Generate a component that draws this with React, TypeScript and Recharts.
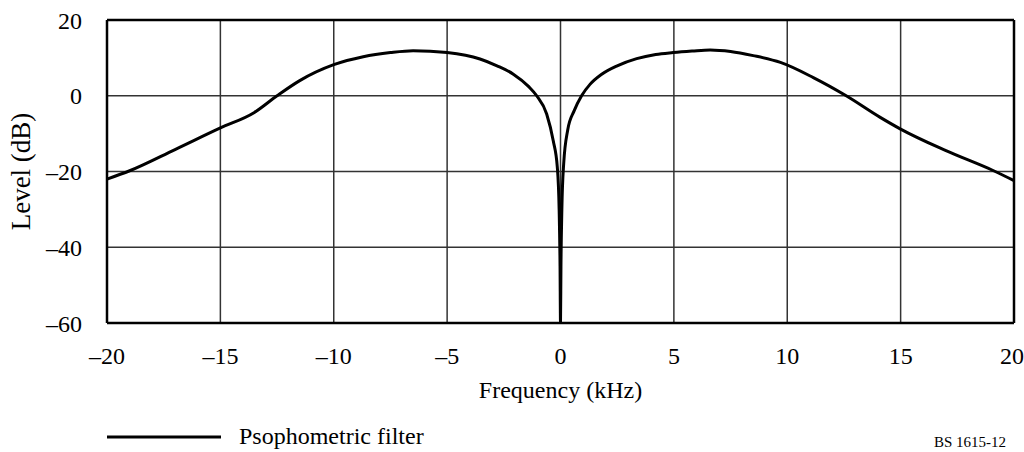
import React from "react";
import {
  LineChart,
  Line,
  XAxis,
  YAxis,
  CartesianGrid,
  ReferenceLine,
  Legend,
} from "recharts";

// frequency (kHz) and level (dB)
const freqs = [
  -20, -19, -17, -15, -13.5, -12.5, -11.5, -10, -8.7, -7.5, -6.5, -5, -3.55,
  -2.8, -2.08, -1.4, -1.05, -0.61, -0.32, -0.14, -0.06, -0.02, 0, 0.02, 0.06,
  0.14, 0.32, 0.6, 0.93, 1.3, 1.8, 2.5, 3.36, 4.2, 4.97, 5.8, 6.6, 7.5, 8.5,
  9.7, 11.15, 12.6, 14.1, 15, 17, 19.1, 20,
];
const levels = [
  -22.0, -19.8, -14.2, -8.5, -4.4, 0, 4.0, 8.2, 10.3, 11.4, 11.9, 11.4, 9.7,
  7.9, 5.7, 2.4, 0, -4.8, -11.9, -18.9, -30, -45, -60, -45, -30, -18, -9,
  -4.0, 0, 3.0, 5.6, 7.9, 9.8, 10.9, 11.4, 11.8, 12.1, 11.7, 10.6, 8.8, 4.8,
  0, -5.7, -8.8, -14.5, -19.8, -22.4,
];
const xTicks = [-20, -15, -10, -5, 0, 5, 10, 15, 20];
const yTicks = [-60, -40, -20, 0, 20];
const seriesName = "Psophometric filter";
const figureId = "BS 1615-12";

const data = freqs.map((f, i) => ({ f, level: levels[i] }));

const font = "'Liberation Serif', 'Times New Roman', serif";
const dash = (v: number) => (v < 0 ? "\u2013" + Math.abs(v) : String(v));

const LegendRow = () => (
  <div style={{ position: "relative", height: 29, fontFamily: font }}>
    <svg
      width={120}
      height={6}
      style={{ position: "absolute", left: 107, top: 11 }}
    >
      <line x1={0} y1={3} x2={114} y2={3} stroke="#000" strokeWidth={3} />
    </svg>
    <span
      style={{
        position: "absolute",
        left: 239,
        top: 0,
        fontSize: 24,
        lineHeight: "27px",
        color: "#000",
        whiteSpace: "nowrap",
      }}
    >
      {seriesName}
    </span>
    <span
      style={{
        position: "absolute",
        left: 934,
        top: 11,
        fontSize: 15,
        lineHeight: "17px",
        color: "#000",
        whiteSpace: "nowrap",
      }}
    >
      {figureId}
    </span>
  </div>
);

export default function App() {
  return (
    <div
      style={{
        position: "absolute",
        left: 0,
        top: 0,
        width: 1024,
        height: 452,
        background: "#fff",
        overflow: "hidden",
      }}
    >
      <LineChart
        width={1024}
        height={452}
        data={data}
        margin={{ top: 20, right: 10, bottom: 0, left: 7 }}
        style={{ fontFamily: font }}
      >
        <CartesianGrid stroke="#333" strokeWidth={1.5} />
        <XAxis
          type="number"
          dataKey="f"
          domain={[-20, 20]}
          ticks={xTicks}
          tickFormatter={dash}
          axisLine={false}
          tickLine={false}
          tickSize={0}
          tickMargin={24}
          height={100}
          tick={{ fill: "#000", fontSize: 24, fontFamily: font }}
          label={{
            value: "Frequency (kHz)",
            position: "insideTop",
            offset: 58,
            fill: "#000",
            fontSize: 24,
            fontFamily: font,
          }}
        />
        <YAxis
          type="number"
          domain={[-60, 20]}
          ticks={yTicks}
          allowDataOverflow
          tickFormatter={dash}
          axisLine={false}
          tickLine={false}
          tickSize={0}
          tickMargin={25}
          width={100}
          tick={{ fill: "#000", fontSize: 24, fontFamily: font }}
          label={{
            value: "Level (dB)",
            angle: -90,
            position: "insideLeft",
            offset: 13,
            fill: "#000",
            fontSize: 27,
            fontFamily: font,
            style: { textAnchor: "middle" },
          }}
        />
        <ReferenceLine x={-20} stroke="#000" strokeWidth={2.5} />
        <ReferenceLine x={20} stroke="#000" strokeWidth={2.5} />
        <ReferenceLine y={20} stroke="#000" strokeWidth={2.5} />
        <ReferenceLine y={-60} stroke="#000" strokeWidth={2.5} />
        <Line
          type="monotone"
          dataKey="level"
          name={seriesName}
          stroke="#000"
          strokeWidth={3}
          dot={false}
          isAnimationActive={false}
        />
        <Legend
          verticalAlign="bottom"
          content={<LegendRow />}
          wrapperStyle={{ left: 0, width: 1024, bottom: 0 }}
        />
      </LineChart>
    </div>
  );
}
